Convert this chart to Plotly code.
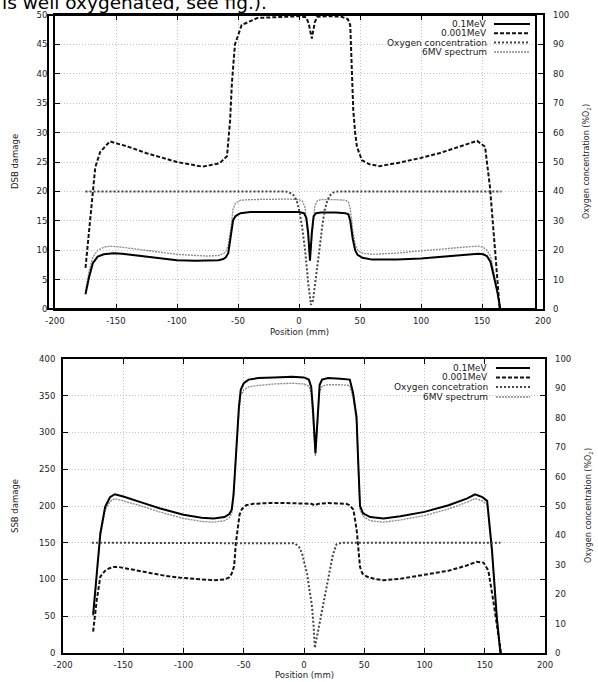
import plotly.graph_objects as go

# ---------------- data ----------------
# Top panel: DSB damage (left axis) and oxygen (right axis, %O2)
dsb_01_x = [-175, -172, -169, -165, -160, -152, -145, -130, -115, -100, -85, -75, -66, -62, -60, -58, -56,
            -54, -52, -50, -48, -40, -25, -10, 0, 4, 6, 7.5, 9, 10.5, 12, 14, 18, 30, 38, 40.5, 42, 44, 46, 48,
            52, 60, 80, 100, 120, 140, 147, 151, 154, 157, 160, 162.5, 165]
dsb_01_y = [2.5, 5.5, 7.8, 8.9, 9.3, 9.5, 9.4, 9.0, 8.6, 8.3, 8.2, 8.2, 8.3, 8.5, 8.8, 9.5, 12.0,
            15.1, 15.8, 16.1, 16.3, 16.5, 16.5, 16.5, 16.5, 16.3, 15.5, 13.0, 8.2, 13.0, 15.8, 16.3, 16.4, 16.4, 16.3, 16.1, 15.0, 12.0, 10.0, 9.2,
            8.7, 8.4, 8.4, 8.6, 8.9, 9.3, 9.4, 9.3, 9.0, 8.0, 5.5, 3.0, 0.0]

dsb_6mv_x = [-175, -172, -169, -165, -160, -155, -145, -130, -115, -100, -85, -75, -66, -62, -60, -58, -56,
             -54, -52, -50, -48, -40, -25, -10, 0, 3, 5, 7, 9, 11, 13, 15, 18, 30, 38, 40.5, 42, 44, 46, 48,
             52, 60, 80, 100, 120, 140, 147, 151, 154, 157, 160, 162.5, 165]
dsb_6mv_y = [3.0, 6.5, 8.8, 10.0, 10.5, 10.7, 10.5, 10.1, 9.6, 9.3, 9.1, 9.0, 9.1, 9.4, 9.8, 10.8, 13.5,
             17.0, 18.0, 18.3, 18.5, 18.6, 18.7, 18.7, 18.6, 18.3, 17.2, 13.0, 9.0, 13.0, 17.5, 18.4, 18.6, 18.6, 18.5, 18.2, 17.0, 13.5, 11.0, 10.0,
             9.5, 9.3, 9.5, 9.9, 10.3, 10.6, 10.7, 10.5, 10.0, 9.0, 6.0, 3.3, 0.0]

dsb_0001_x = [-175, -173, -171, -169, -167, -163, -155, -140, -125, -100, -79, -65, -59, -56.5, -55, -52.5, -47, -34,
              -15, 0, 6, 8, 10.5, 13, 15, 25, 35, 40, 42, 43, 44.5, 46, 47.5, 51.5, 58, 66, 80, 100, 115, 130,
              146, 152.5, 156.5, 160.5, 164.5]
dsb_0001_y = [7.0, 11.0, 15.0, 20.0, 24.1, 26.7, 28.5, 27.6, 26.5, 25.0, 24.2, 24.8, 26.0, 32.0, 38.4, 45.0, 48.3, 49.5,
              49.7, 49.8, 49.6, 48.5, 46.0, 48.8, 49.7, 49.8, 49.7, 49.3, 48.3, 41.0, 33.8, 30.0, 27.6, 25.3, 24.6, 24.3, 24.8, 25.7, 26.5, 27.5,
              28.6, 27.6, 20.8, 10.5, 0.0]

oxy_top_x = [-175, -20, -11, -8, -5, -2, 0.5, 2.5, 5, 7.5, 9.8, 11.5, 13, 15, 17, 19, 21, 23, 25, 28, 32, 166]
oxy_top_y = [40, 40, 40, 39.6, 39.0, 37.0, 33.0, 28.0, 20.0, 9.0, 1.4, 3.0, 7.5, 14.0, 21.0, 28.0, 33.7, 36.5, 38.5, 39.6, 40, 40]

# Bottom panel: SSB damage (left axis) and oxygen (right axis, %O2)
ssb_01_x = [-175, -172, -169, -165, -161, -157, -150, -135, -120, -100, -85, -75, -66, -62, -60, -58.5, -57, -55.5,
            -54, -52.5, -50, -46, -38, -25, -10, 0, 4, 6, 7.5, 9.5, 11.5, 13, 15, 20, 30, 38, 40.7, 42.5, 43.6, 45,
            46.5, 49, 55, 66, 80, 100, 120, 135, 142, 148, 152, 156, 160, 163]
ssb_01_y = [52, 110, 163, 199, 212, 216, 213, 205, 197, 188, 184, 183, 185, 189, 195, 215, 255, 300,
            335, 358, 367, 372, 374, 375, 376, 375, 372, 362, 330, 272, 330, 365, 372, 374, 373, 372, 354, 335, 321, 260,
            200, 190, 185, 183, 186, 192, 201, 210, 216, 212, 207, 140, 49, 0]

ssb_6mv_x = [-175, -172, -169, -165, -161, -157, -150, -135, -120, -100, -85, -75, -66, -62, -60, -58.5, -57, -55.5,
             -54, -52.5, -50, -46, -38, -25, -10, 0, 4, 6, 7.5, 9.5, 11.5, 13, 15, 20, 30, 38, 40.7, 42.5, 43.6, 45,
             46.5, 49, 55, 66, 80, 100, 120, 135, 142, 148, 152, 156, 160, 163]
ssb_6mv_y = [50, 105, 158, 194, 206, 210, 207, 200, 192, 183, 179, 178, 180, 184, 190, 210, 250, 295,
             328, 350, 358, 362, 364, 366, 367, 366, 363, 353, 322, 268, 322, 355, 363, 365, 365, 364, 348, 330, 315, 255,
             195, 186, 180, 178, 181, 187, 196, 205, 210, 207, 202, 136, 47, 0]

ssb_0001_x = [-175, -172, -169, -165, -162, -158, -154, -145, -130, -115, -100, -85, -75, -66, -62, -60, -58, -56.5,
              -55, -53.5, -51.5, -48, -42, -30, -15, 0, 6, 9, 12, 20, 35, 38, 41, 43, 44, 45.2, 46.5, 48.5, 52, 58,
              66, 80, 100, 120, 135, 143, 149, 153, 157, 161, 163.5]
ssb_0001_y = [29, 72, 104, 112, 115, 117, 117, 114, 109, 105, 102, 100, 99, 100, 103, 108, 118, 150,
              172, 188, 196, 201, 203, 204, 204, 204, 203, 201, 203, 204, 203, 201, 195, 175, 163, 140, 117, 108, 104, 101,
              99, 101, 106, 112, 119, 124, 123, 112, 72, 27, 0]

oxy_bot_x = [-176, -12, -7.5, -4, -1.7, 2.5, 5, 6.6, 8, 9, 10.5, 13, 16, 19, 21.5, 24, 27, 31, 163]
oxy_bot_y = [37.5, 37.5, 37.3, 36.0, 34.0, 27.0, 21.0, 16.0, 9.0, 1.7, 5.0, 10.5, 16.0, 22.5, 29.0, 33.5, 37.0, 37.5, 37.5]

x_ticks = [-200, -150, -100, -50, 0, 50, 100, 150, 200]
x_ticktext = ["-200", "-150", "-100", "-50", "0", "50", "100", "150", "200"]
dsb_ticks = [0, 5, 10, 15, 20, 25, 30, 35, 40, 45, 50]
ssb_ticks = [0, 50, 100, 150, 200, 250, 300, 350, 400]
oxy_ticks = [0, 10, 20, 30, 40, 50, 60, 70, 80, 90, 100]

names = ["0.1MeV", "0.001MeV", "Oxygen concentration", "6MV spectrum"]
names_bottom = ["0.1MeV", "0.001MeV", "Oxygen concetration", "6MV spectrum"]

# ---------------- styles ----------------
W, H = 598, 682
FONT = "DejaVu Sans"
TICKFONT = dict(family=FONT, size=8.5, color="#222")
sty_01 = dict(color="black", width=2)
sty_0001 = dict(color="#111", width=2, dash="4px,2px")
sty_oxy = dict(color="#444", width=2, dash="2px,2px")
sty_6mv = dict(color="#888", width=1.3, dash="2px,1px")


def px(v):
    return v / W


def py(v):
    return 1 - v / H


fig = go.Figure()

# top panel traces
fig.add_trace(go.Scatter(x=dsb_6mv_x, y=dsb_6mv_y, mode="lines", line=sty_6mv, xaxis="x", yaxis="y", showlegend=False))
fig.add_trace(go.Scatter(x=oxy_top_x, y=oxy_top_y, mode="lines", line=sty_oxy, xaxis="x", yaxis="y2", showlegend=False))
fig.add_trace(go.Scatter(x=dsb_0001_x, y=dsb_0001_y, mode="lines", line=sty_0001, xaxis="x", yaxis="y", showlegend=False))
fig.add_trace(go.Scatter(x=dsb_01_x, y=dsb_01_y, mode="lines", line=sty_01, xaxis="x", yaxis="y", showlegend=False))

# bottom panel traces
fig.add_trace(go.Scatter(x=ssb_6mv_x, y=ssb_6mv_y, mode="lines", line=sty_6mv, xaxis="x2", yaxis="y3", showlegend=False))
fig.add_trace(go.Scatter(x=oxy_bot_x, y=oxy_bot_y, mode="lines", line=sty_oxy, xaxis="x2", yaxis="y4", showlegend=False))
fig.add_trace(go.Scatter(x=ssb_0001_x, y=ssb_0001_y, mode="lines", line=sty_0001, xaxis="x2", yaxis="y3", showlegend=False))
fig.add_trace(go.Scatter(x=ssb_01_x, y=ssb_01_y, mode="lines", line=sty_01, xaxis="x2", yaxis="y3", showlegend=False))

grid = dict(showgrid=True, gridcolor="#c4c4c4", gridwidth=1, griddash="1px,2px", zeroline=False)
frame = dict(showline=True, linecolor="black", linewidth=2, ticks="inside", ticklen=5, tickwidth=1,
             tickcolor="black", tickfont=TICKFONT, automargin=False)

top_y0, top_y1 = 309, 15
bot_y0, bot_y1 = 653, 359

fig.update_layout(
    template="none",
    width=W, height=H, margin=dict(l=0, r=0, t=0, b=0, autoexpand=False),
    paper_bgcolor="white", plot_bgcolor="white", showlegend=False,
    xaxis=dict(domain=[px(55), px(543)], range=[-200, 200], tickvals=x_ticks, ticktext=x_ticktext, anchor="y",
               mirror="ticks", ticklabelstandoff=3, **grid, **frame),
    yaxis=dict(domain=[py(top_y0), py(top_y1)], range=[0, 50], tickvals=dsb_ticks, anchor="x",
               mirror="ticks", ticklabelstandoff=4, **grid, **frame),
    yaxis2=dict(range=[0, 100], tickvals=oxy_ticks, overlaying="y", side="right", anchor="x",
                showgrid=False, zeroline=False, showline=False, ticks="", tickfont=TICKFONT,
                ticklabelstandoff=9, automargin=False),
    xaxis2=dict(domain=[px(63), px(545)], range=[-200, 200], tickvals=x_ticks, ticktext=x_ticktext, anchor="y3",
                mirror="ticks", ticklabelstandoff=3, **grid, **frame),
    yaxis3=dict(domain=[py(bot_y0), py(bot_y1)], range=[0, 400], tickvals=ssb_ticks, anchor="x2",
                mirror="ticks", ticklabelstandoff=4, **grid, **frame),
    yaxis4=dict(range=[0, 100], tickvals=oxy_ticks, overlaying="y3", side="right", anchor="x2",
                showgrid=False, zeroline=False, showline=False, ticks="", tickfont=TICKFONT,
                ticklabelstandoff=9, automargin=False),
)

shapes = []
annotations = []

# extra (doubled) frame of the top panel
shapes.append(dict(type="rect", xref="paper", yref="paper", x0=px(48), x1=px(536), y0=py(top_y0), y1=py(top_y1),
                   line=dict(color="black", width=2), fillcolor="rgba(0,0,0,0)", layer="above"))

# manual legends (text right-aligned, sample line on the right)
def legend(labels, text_right, line_x0, line_x1, rows):
    styles = [sty_01, sty_0001, sty_oxy, sty_6mv]
    for lab, st, ry in zip(labels, styles, rows):
        annotations.append(dict(text=lab, xref="paper", yref="paper", x=px(text_right), y=py(ry),
                                xanchor="right", yanchor="middle", showarrow=False, borderpad=0,
                                font=dict(family=FONT, size=9, color="#222")))
        shapes.append(dict(type="line", xref="paper", yref="paper", x0=px(line_x0), x1=px(line_x1),
                           y0=py(ry), y1=py(ry), line=st))

legend(names, 488, 494, 530, [24, 33.3, 42.6, 52])
legend(names_bottom, 489, 496, 530, [368, 377.5, 387, 397])

# axis titles
def txt(t, x, y, angle=0, size=8.5):
    annotations.append(dict(text=t, xref="paper", yref="paper", x=px(x), y=py(y), xanchor="center",
                            yanchor="middle", showarrow=False, textangle=angle,
                            font=dict(family=FONT, size=size, color="#222")))

txt("DSB damage", 15, 162, -90)
txt("Oxygen concentration (%O<sub>2</sub>)", 587, 162, -90, 8)
txt("Position (mm)", 299, 332)
txt("SSB damage", 15, 506, -90)
txt("Oxygen concentration (%O<sub>2</sub>)", 589, 506, -90, 8)
txt("Position (mm)", 304, 675)

# cropped caption line from the page above the figure
annotations.append(dict(text="is well oxygenated, see fig.).", xref="paper", yref="paper", x=0, y=1,
                        xanchor="left", yanchor="top", yshift=10, showarrow=False,
                        font=dict(family=FONT, size=18.5, color="black")))

fig.update_layout(shapes=shapes, annotations=annotations)
fig.write_html("out.html", config={"displayModeBar": False},
               post_script="document.body.style.margin='0';document.body.style.overflow='hidden';")
